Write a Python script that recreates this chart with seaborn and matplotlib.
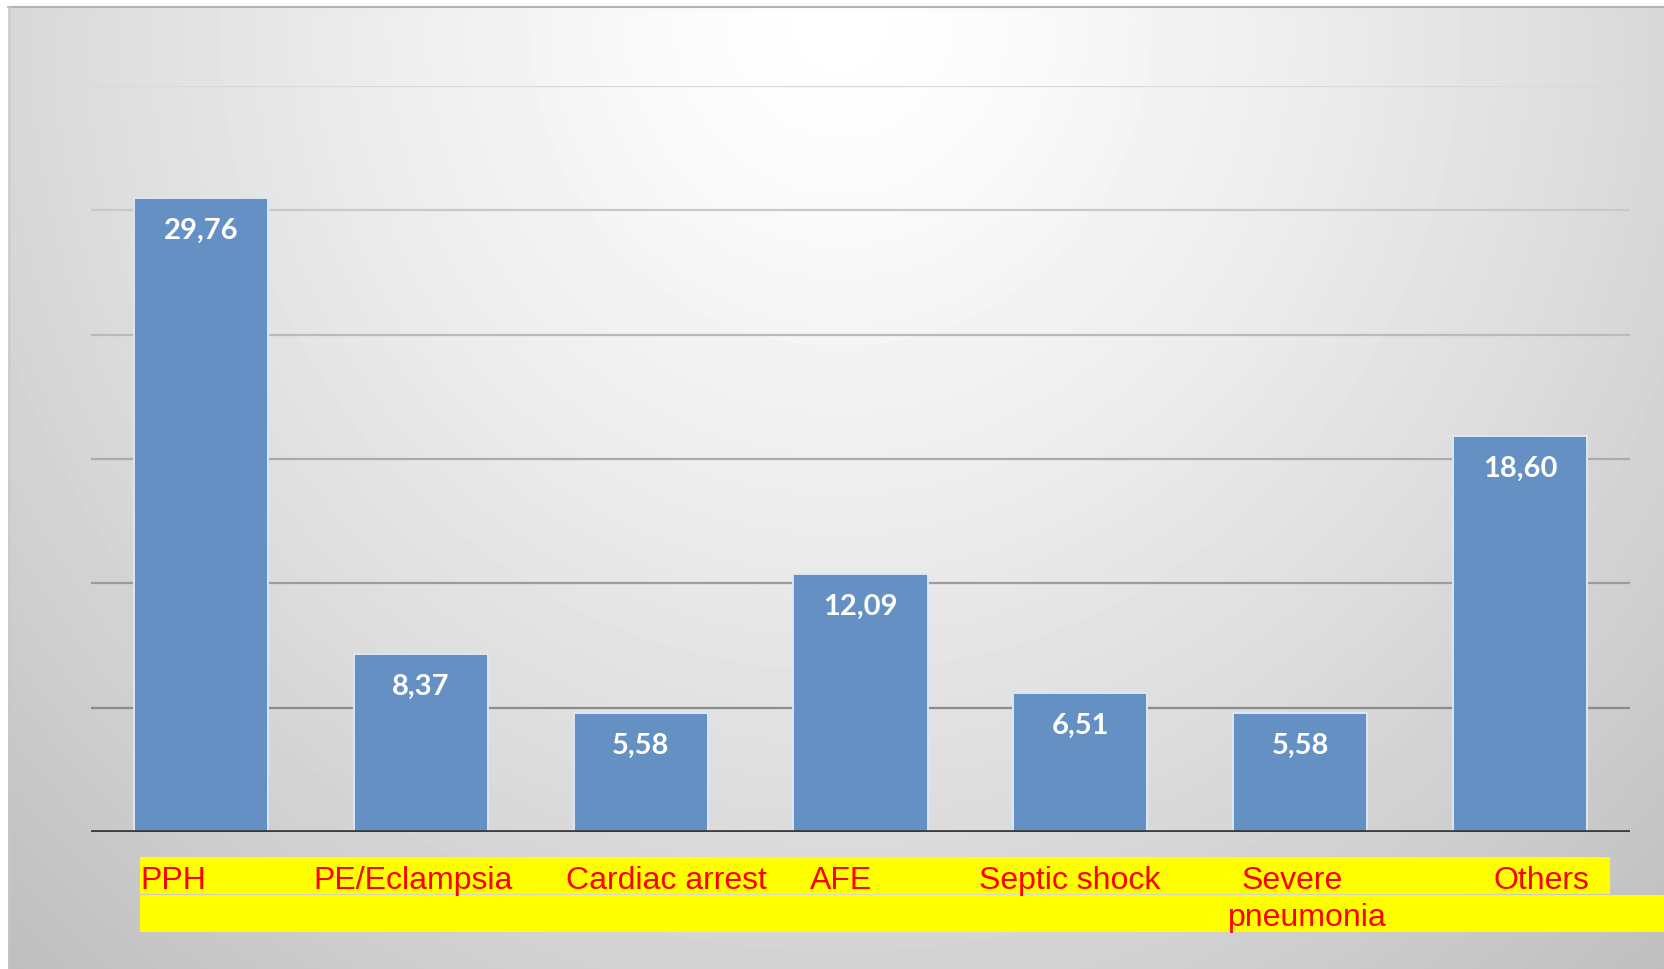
import numpy as np
import matplotlib
matplotlib.use("Agg")
import matplotlib.pyplot as plt
from matplotlib.patches import Rectangle
import seaborn as sns

# Share of maternal deaths by cause (%)
categories = ["PPH", "PE/Eclampsia", "Cardiac arrest", "AFE",
              "Septic shock", "Severe\npneumonia", "Others"]
values = [29.76, 8.37, 5.58, 12.09, 6.51, 5.58, 18.60]

# Horizontal placement of each category caption line (pixels from bar centre)
caption_offsets = [[-61], [-107], [-75], [-51], [-101], [-59, -72], [-27]]

W, H = 1664, 970
sns.set_theme(style="white")
plt.rcParams["font.family"] = ["Liberation Sans", "DejaVu Sans"]

fig = plt.figure(figsize=(W / 100, H / 100), dpi=100)
fig.patch.set_facecolor("white")

# Background panel with a soft radial gradient
bg = fig.add_axes([0, 0, 1, 1])
bg.set_zorder(-1)
bg.set_xlim(0, W)
bg.set_ylim(H, 0)
bg.axis("off")
yy, xx = np.mgrid[7:H, 8:W].astype(float)
r = np.sqrt(((xx - 840) / 1000.0) ** 2 + ((yy - 20) / 1050.0) ** 2)
shade = np.clip(255 - 50 * r ** 1.3, 190, 255) / 255.0
bg.imshow(shade, cmap="gray", vmin=0, vmax=1, extent=(8, W, H, 7),
          aspect="auto", interpolation="bilinear")
bg.plot([8, W], [7.5, 7.5], color="#b4b4b4", lw=1.5)
bg.plot([8.5, 8.5], [7, H], color="#c8c8c8", lw=1)

# Yellow caption strips
bg.add_patch(Rectangle((140, 858), 1610 - 140, 37, color="#ffff00", lw=0))
bg.add_patch(Rectangle((140, 896), W - 140, 37, color="#ffff00", lw=0))

# Main plotting area
ax_left, ax_right, ax_top, ax_bottom = 91, 1630, 87, 833
ax = fig.add_axes([ax_left / W, (H - ax_bottom) / H,
                   (ax_right - ax_left) / W, (ax_bottom - ax_top) / H])
ax.set_facecolor("none")

ymax = 35.0
ax.set_ylim(0, ymax)
grid_levels = np.linspace(0, ymax, 7)[1:]
grid_colors = np.linspace(0.55, 0.85, len(grid_levels))
for lvl, c in zip(grid_levels, grid_colors):
    ax.axhline(lvl, color=str(c), lw=1.6, zorder=0)

sns.barplot(x=list(range(len(categories))), y=values, color="#6590c4",
            saturation=1, width=0.61, edgecolor="#dbe7f4", linewidth=1.4,
            ax=ax, zorder=2)
ax.set_xlim(-0.5, len(categories) - 0.5)
ax.axhline(0, color="#3c3c3c", lw=3.4, zorder=3)

for s in ax.spines.values():
    s.set_visible(False)
ax.set_xticks([])
ax.set_yticks([])
ax.set_xlabel("")
ax.set_ylabel("")

# Value labels inside the top of each bar
for i, v in enumerate(values):
    ax.annotate(f"{v:.2f}".replace(".", ","), xy=(i, v),
                xytext=(0, -32), textcoords="offset pixels",
                ha="center", va="center", color="white",
                fontsize=21, fontweight="bold", family=["Lato", "DejaVu Sans"],
                zorder=4)

# Category captions in red on the yellow strips
line_gap = 37
for i, (cat, offs) in enumerate(zip(categories, caption_offsets)):
    for k, (line, dx) in enumerate(zip(cat.split("\n"), offs)):
        ax.annotate(line, xy=(i, 0), xycoords=("data", "axes fraction"),
                    xytext=(dx, -(889 - ax_bottom) - k * line_gap),
                    textcoords="offset pixels", ha="left", va="baseline",
                    color="#ff0000", fontsize=23,
                    family=["Liberation Sans", "DejaVu Sans"],
                    annotation_clip=False, zorder=5)

fig.savefig("out.png", dpi=100)
